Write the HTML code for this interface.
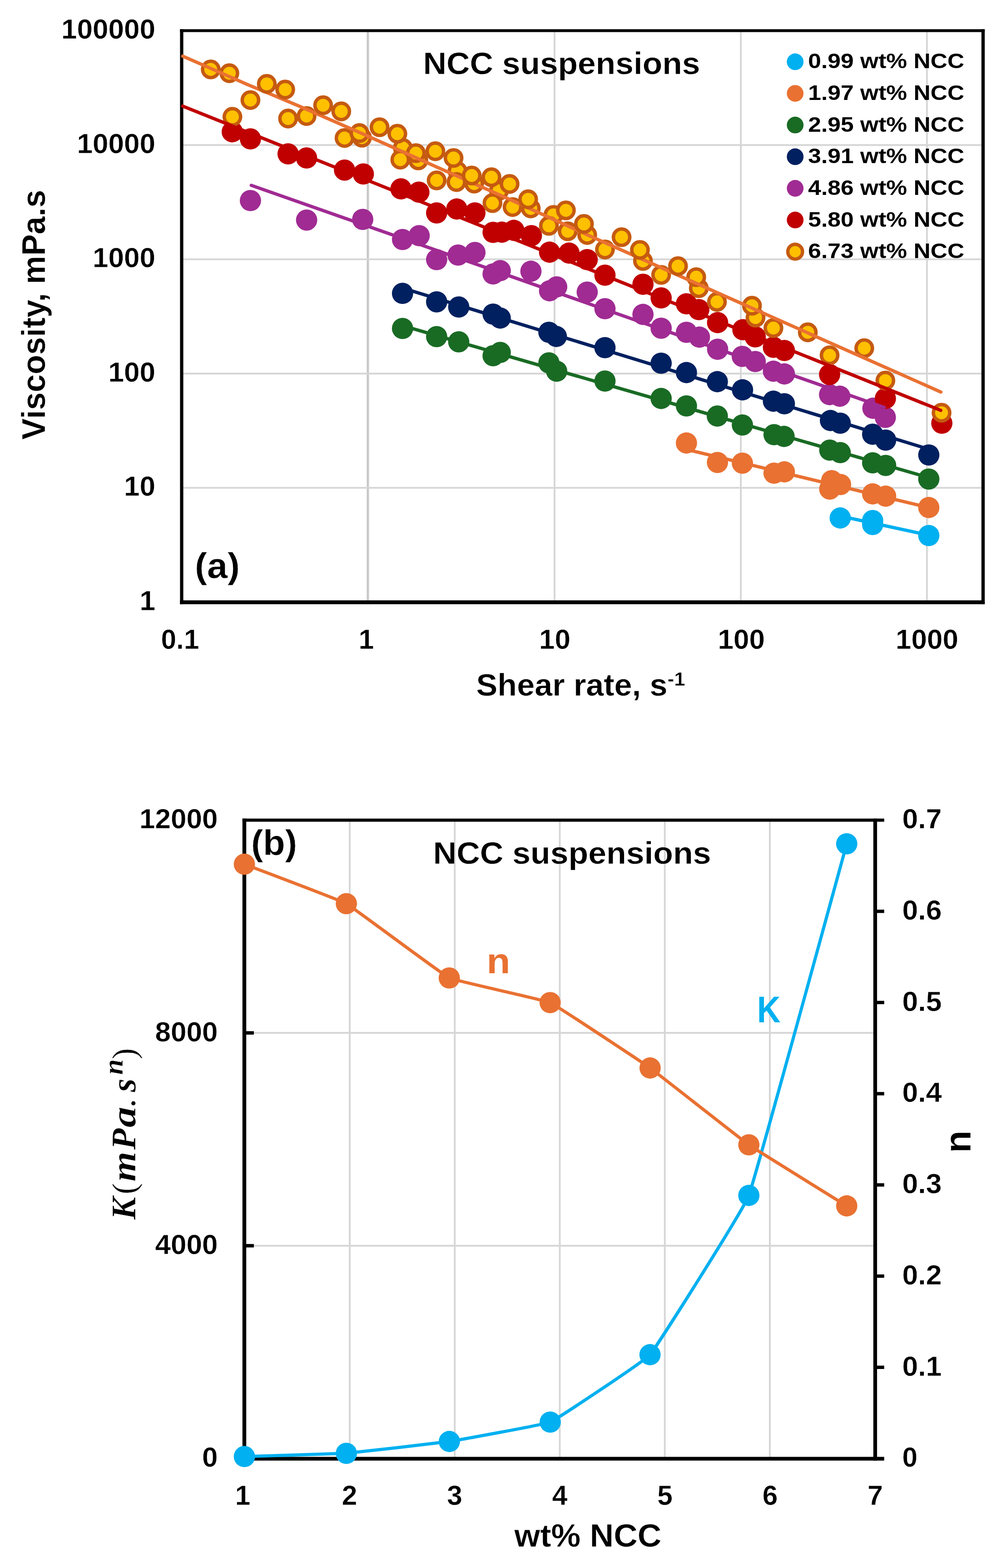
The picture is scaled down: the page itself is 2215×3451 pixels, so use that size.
<!DOCTYPE html>
<html lang="en"><head><meta charset="utf-8"><title>NCC suspensions</title>
<style>
html,body{margin:0;padding:0;background:#fff;}
body{width:2215px;height:3451px;overflow:hidden;}
svg{display:block;}
text{font-family:"Liberation Sans", Arial, Helvetica, sans-serif;font-weight:700;fill:#000;stroke:#fff;stroke-width:0.5px;stroke-linejoin:round;}
.g{stroke:#D6D6D6;stroke-width:3.9;fill:none;}
.ax{stroke:#000;fill:none;}
.mi{font-family:"Liberation Serif","DejaVu Serif",serif;font-style:italic;font-weight:700;}
</style></head><body>
<svg width="2215" height="3451" viewBox="0 0 2215 3451">
<rect width="2215" height="3451" fill="#fff"/>
<g id="chart-a">
<line x1="810" y1="67.4" x2="810" y2="1325.5" stroke="#DDDDDD" stroke-width="6.2"/>
<line x1="809.9" y1="67.4" x2="809.9" y2="1325.5" stroke="#BEBEBE" stroke-width="2.2"/>
<line class="g" x1="1221" y1="67.4" x2="1221" y2="1325.5"/>
<line class="g" x1="1631.1" y1="67.4" x2="1631.1" y2="1325.5"/>
<line class="g" x1="2040.9" y1="67.4" x2="2040.9" y2="1325.5"/>
<line class="g" x1="400.2" y1="319.2" x2="2164.5" y2="319.2"/>
<line class="g" x1="400.2" y1="570.6" x2="2164.5" y2="570.6"/>
<line class="g" x1="400.2" y1="822.2" x2="2164.5" y2="822.2"/>
<line class="g" x1="400.2" y1="1073.6" x2="2164.5" y2="1073.6"/>
<text x="931.5" y="163.2" font-size="69.3" textLength="610" lengthAdjust="spacingAndGlyphs">NCC suspensions</text>
<text x="429" y="1271.5" font-size="77" textLength="99" lengthAdjust="spacingAndGlyphs">(a)</text>
<circle cx="1750.8" cy="135.9" r="18.4" fill="#00B0F0"/>
<text x="1779.3" y="150.3" font-size="46.8" textLength="344" lengthAdjust="spacingAndGlyphs" stroke="none" style="stroke:none">0.99 wt% NCC</text>
<circle cx="1750.8" cy="205.6" r="18.4" fill="#E97132"/>
<text x="1779.3" y="220.0" font-size="46.8" textLength="344" lengthAdjust="spacingAndGlyphs" stroke="none" style="stroke:none">1.97 wt% NCC</text>
<circle cx="1750.8" cy="275.2" r="18.4" fill="#196B24"/>
<text x="1779.3" y="289.6" font-size="46.8" textLength="344" lengthAdjust="spacingAndGlyphs" stroke="none" style="stroke:none">2.95 wt% NCC</text>
<circle cx="1750.8" cy="344.9" r="18.4" fill="#002060"/>
<text x="1779.3" y="359.3" font-size="46.8" textLength="344" lengthAdjust="spacingAndGlyphs" stroke="none" style="stroke:none">3.91 wt% NCC</text>
<circle cx="1750.8" cy="414.5" r="18.4" fill="#A02B93"/>
<text x="1779.3" y="428.9" font-size="46.8" textLength="344" lengthAdjust="spacingAndGlyphs" stroke="none" style="stroke:none">4.86 wt% NCC</text>
<circle cx="1750.8" cy="484.2" r="18.4" fill="#C00000"/>
<text x="1779.3" y="498.6" font-size="46.8" textLength="344" lengthAdjust="spacingAndGlyphs" stroke="none" style="stroke:none">5.80 wt% NCC</text>
<circle cx="1750.8" cy="553.9" r="16.2" fill="#FFC000" stroke="#C55A11" stroke-width="7.4"/>
<text x="1779.3" y="568.3" font-size="46.8" textLength="344" lengthAdjust="spacingAndGlyphs" stroke="none" style="stroke:none">6.73 wt% NCC</text>
<g fill="#000">
<rect x="396.4" y="64.3" width="1771.8" height="6.3"/>
<rect x="396.4" y="1321.3" width="1771.8" height="8.5"/>
<rect x="396.4" y="64.3" width="7.2" height="1265.5"/>
<rect x="2160.9" y="64.3" width="7.3" height="1265.5"/>
</g>
<g fill="#00B0F0"><circle cx="1850" cy="1140" r="23.4"/><circle cx="1921.4" cy="1145.7" r="23.4"/><circle cx="1921.4" cy="1154.3" r="23.4"/><circle cx="2045" cy="1178.6" r="23.4"/></g>
<g fill="#E97132"><circle cx="1511.4" cy="975" r="23.4"/><circle cx="1579.7" cy="1017.8" r="23.4"/><circle cx="1634.6" cy="1019.3" r="23.4"/><circle cx="1704.3" cy="1041.4" r="23.4"/><circle cx="1727" cy="1038.5" r="23.4"/><circle cx="1827" cy="1076.3" r="23.4"/><circle cx="1831.2" cy="1057.8" r="23.4"/><circle cx="1850.7" cy="1066.3" r="23.4"/><circle cx="1921.4" cy="1087" r="23.4"/><circle cx="1950" cy="1092" r="23.4"/><circle cx="2045" cy="1117" r="23.4"/></g>
<g fill="#196B24"><circle cx="886.3" cy="722.9" r="23.4"/><circle cx="961.4" cy="740.9" r="23.4"/><circle cx="1010" cy="752.3" r="23.4"/><circle cx="1085.7" cy="782.9" r="23.4"/><circle cx="1101.4" cy="775.7" r="23.4"/><circle cx="1208.6" cy="798.6" r="23.4"/><circle cx="1225.7" cy="817" r="23.4"/><circle cx="1332" cy="838.6" r="23.4"/><circle cx="1455.7" cy="877" r="23.4"/><circle cx="1511.4" cy="893.4" r="23.4"/><circle cx="1579.4" cy="915.7" r="23.4"/><circle cx="1634.6" cy="935.3" r="23.4"/><circle cx="1704.3" cy="956.6" r="23.4"/><circle cx="1726.3" cy="960.5" r="23.4"/><circle cx="1827" cy="990.7" r="23.4"/><circle cx="1850" cy="996.2" r="23.4"/><circle cx="1921.4" cy="1018.6" r="23.4"/><circle cx="1950" cy="1024.3" r="23.4"/><circle cx="2045" cy="1054.3" r="23.4"/></g>
<g fill="#002060"><circle cx="886.3" cy="645.7" r="23.4"/><circle cx="961.4" cy="664.3" r="23.4"/><circle cx="1010" cy="675.7" r="23.4"/><circle cx="1085.7" cy="691.4" r="23.4"/><circle cx="1101.4" cy="700" r="23.4"/><circle cx="1208.6" cy="731.4" r="23.4"/><circle cx="1224.9" cy="740.5" r="23.4"/><circle cx="1332" cy="765.1" r="23.4"/><circle cx="1455.7" cy="799.4" r="23.4"/><circle cx="1511.4" cy="820" r="23.4"/><circle cx="1579.4" cy="840" r="23.4"/><circle cx="1634.9" cy="858" r="23.4"/><circle cx="1702.9" cy="883" r="23.4"/><circle cx="1727" cy="888.6" r="23.4"/><circle cx="1828.5" cy="925.5" r="23.4"/><circle cx="1850" cy="931.4" r="23.4"/><circle cx="1921.4" cy="955.7" r="23.4"/><circle cx="1950" cy="968.6" r="23.4"/><circle cx="2045" cy="1001.4" r="23.4"/></g>
<g fill="#A02B93"><circle cx="551.4" cy="441.4" r="23.4"/><circle cx="675.1" cy="484.3" r="23.4"/><circle cx="798.6" cy="482.9" r="23.4"/><circle cx="886.3" cy="527.1" r="23.4"/><circle cx="922.9" cy="518.6" r="23.4"/><circle cx="961.4" cy="571.4" r="23.4"/><circle cx="1008.6" cy="561.4" r="23.4"/><circle cx="1045.7" cy="555.7" r="23.4"/><circle cx="1085.7" cy="602.9" r="23.4"/><circle cx="1101.4" cy="595.7" r="23.4"/><circle cx="1169" cy="597" r="23.4"/><circle cx="1210" cy="640" r="23.4"/><circle cx="1225.7" cy="631.4" r="23.4"/><circle cx="1292.9" cy="642.9" r="23.4"/><circle cx="1332" cy="679.4" r="23.4"/><circle cx="1415.7" cy="692" r="23.4"/><circle cx="1455.7" cy="722.3" r="23.4"/><circle cx="1511.4" cy="731.4" r="23.4"/><circle cx="1540" cy="742" r="23.4"/><circle cx="1580" cy="768.6" r="23.4"/><circle cx="1634.3" cy="784.3" r="23.4"/><circle cx="1662.9" cy="795.7" r="23.4"/><circle cx="1702.9" cy="817" r="23.4"/><circle cx="1727" cy="823" r="23.4"/><circle cx="1826.6" cy="868.5" r="23.4"/><circle cx="1849" cy="872" r="23.4"/><circle cx="1922" cy="898.5" r="23.4"/><circle cx="1949.3" cy="918.6" r="23.4"/></g>
<g fill="#C00000"><circle cx="511.4" cy="290" r="23.4"/><circle cx="551.4" cy="305.7" r="23.4"/><circle cx="634.3" cy="338.6" r="23.4"/><circle cx="675" cy="347.7" r="23.4"/><circle cx="758.6" cy="374.3" r="23.4"/><circle cx="800" cy="382.9" r="23.4"/><circle cx="882.9" cy="415.7" r="23.4"/><circle cx="922.3" cy="422.9" r="23.4"/><circle cx="961.4" cy="468.6" r="23.4"/><circle cx="1005.7" cy="460" r="23.4"/><circle cx="1045.7" cy="468.6" r="23.4"/><circle cx="1085.7" cy="511.4" r="23.4"/><circle cx="1105" cy="511" r="23.4"/><circle cx="1131.4" cy="507" r="23.4"/><circle cx="1170" cy="518.6" r="23.4"/><circle cx="1210" cy="555" r="23.4"/><circle cx="1252.9" cy="557" r="23.4"/><circle cx="1292.9" cy="571.4" r="23.4"/><circle cx="1332" cy="605.7" r="23.4"/><circle cx="1415.7" cy="625.7" r="23.4"/><circle cx="1455.7" cy="655.7" r="23.4"/><circle cx="1511.4" cy="668.6" r="23.4"/><circle cx="1538.6" cy="681.4" r="23.4"/><circle cx="1580" cy="710" r="23.4"/><circle cx="1635.7" cy="725.7" r="23.4"/><circle cx="1662.9" cy="741.4" r="23.4"/><circle cx="1702.9" cy="764.3" r="23.4"/><circle cx="1727" cy="771.4" r="23.4"/><circle cx="1826.6" cy="824.3" r="23.4"/><circle cx="1949.4" cy="877" r="23.4"/><circle cx="2073.7" cy="931.4" r="23.4"/></g>
<g fill="#FFC000" stroke="#C55A11" stroke-width="7.6"><circle cx="797" cy="303" r="18"/><circle cx="887" cy="325.7" r="18"/><circle cx="921" cy="353" r="18"/><circle cx="1007.3" cy="376.3" r="18"/><circle cx="1044" cy="404" r="18"/><circle cx="1098.6" cy="420" r="18"/><circle cx="1168.6" cy="458.6" r="18"/><circle cx="1218.6" cy="473" r="18"/><circle cx="1250" cy="509" r="18"/><circle cx="1292.9" cy="517.1" r="18"/><circle cx="1415.7" cy="574.3" r="18"/><circle cx="1538.6" cy="634.3" r="18"/><circle cx="1663.5" cy="699" r="18"/><circle cx="464.0" cy="152.8" r="18"/><circle cx="505.0" cy="161.1" r="18"/><circle cx="551.4" cy="220.2" r="18"/><circle cx="511.7" cy="257.1" r="18"/><circle cx="634.3" cy="260.9" r="18"/><circle cx="675.0" cy="255.4" r="18"/><circle cx="758.6" cy="303.7" r="18"/><circle cx="791.4" cy="292.9" r="18"/><circle cx="881.4" cy="351.4" r="18"/><circle cx="915.7" cy="337" r="18"/><circle cx="961.4" cy="397" r="18"/><circle cx="1005" cy="400.6" r="18"/><circle cx="1084.3" cy="447" r="18"/><circle cx="1128.6" cy="455.7" r="18"/><circle cx="1208.6" cy="497" r="18"/><circle cx="1332" cy="549.1" r="18"/><circle cx="1455.7" cy="605" r="18"/><circle cx="1532.9" cy="610" r="18"/><circle cx="1578.6" cy="664.3" r="18"/><circle cx="1655.7" cy="672.9" r="18"/><circle cx="1702.9" cy="722" r="18"/><circle cx="1778.6" cy="731.4" r="18"/><circle cx="1826.6" cy="782" r="18"/><circle cx="1902.9" cy="766.3" r="18"/><circle cx="1949.4" cy="837.6" r="18"/><circle cx="2073.1" cy="908.4" r="18"/></g>
<g fill="none" stroke-width="7.3" stroke-linecap="round" stroke-linejoin="round">
<line x1="1849.5" y1="1135.6" x2="2045.5" y2="1177.9" stroke="#00B0F0"/>
<line x1="1511" y1="989.1" x2="2045.4" y2="1117.3" stroke="#E97132"/>
<line x1="886.2" y1="716.8" x2="2045.4" y2="1051.3" stroke="#196B24"/>
<line x1="886.2" y1="633.9" x2="2045.4" y2="988.7" stroke="#002060"/>
<line x1="553.2" y1="407.9" x2="1946.9" y2="896.6" stroke="#A02B93"/>
<line x1="402.4" y1="233.6" x2="2071.3" y2="903.2" stroke="#C00000"/>
<polyline stroke="#E97132" points="402.3,123.6 480,157.5 545,186.2 600,208.9 660,234.1 800,295.2 960,366.8 1120,437.8 1200,474.4 1280,511.0 1440,582.2 1600,653.3 1750,720.0 1900,786.7 2071.6,862.8"/>
</g>
<g fill="#FFC000" stroke="#C55A11" stroke-width="7.6"><circle cx="587.4" cy="184.6" r="18"/><circle cx="628" cy="197.1" r="18"/><circle cx="711.4" cy="231.6" r="18"/><circle cx="751.4" cy="245.1" r="18"/><circle cx="835.7" cy="280" r="18"/><circle cx="874.9" cy="294.3" r="18"/><circle cx="958.6" cy="332.9" r="18"/><circle cx="998.6" cy="347.7" r="18"/><circle cx="1038.6" cy="386.3" r="18"/><circle cx="1082" cy="390" r="18"/><circle cx="1122" cy="404.9" r="18"/><circle cx="1162.9" cy="438.6" r="18"/><circle cx="1246" cy="463" r="18"/><circle cx="1285.7" cy="492.9" r="18"/><circle cx="1368.6" cy="522" r="18"/><circle cx="1409" cy="550" r="18"/><circle cx="1492.9" cy="585.7" r="18"/></g>
<text x="342" y="85.2" font-size="60.5" text-anchor="end" textLength="207.0" lengthAdjust="spacingAndGlyphs">100000</text>
<text x="342" y="336.8" font-size="60.5" text-anchor="end" textLength="172.5" lengthAdjust="spacingAndGlyphs">10000</text>
<text x="342" y="588.4" font-size="60.5" text-anchor="end" textLength="138.0" lengthAdjust="spacingAndGlyphs">1000</text>
<text x="342" y="840.0" font-size="60.5" text-anchor="end" textLength="103.5" lengthAdjust="spacingAndGlyphs">100</text>
<text x="342" y="1091.3999999999999" font-size="60.5" text-anchor="end" textLength="69.0" lengthAdjust="spacingAndGlyphs">10</text>
<text x="342" y="1343.3" font-size="60.5" text-anchor="end" textLength="34.5" lengthAdjust="spacingAndGlyphs">1</text>
<text x="396.5" y="1428" font-size="60.5" text-anchor="middle" textLength="84" lengthAdjust="spacingAndGlyphs">0.1</text>
<text x="806.5" y="1428" font-size="60.5" text-anchor="middle">1</text>
<text x="1221.5" y="1428" font-size="60.5" text-anchor="middle" textLength="69" lengthAdjust="spacingAndGlyphs">10</text>
<text x="1632.2" y="1428" font-size="60.5" text-anchor="middle" textLength="103.5" lengthAdjust="spacingAndGlyphs">100</text>
<text x="2041" y="1428" font-size="60.5" text-anchor="middle" textLength="138" lengthAdjust="spacingAndGlyphs">1000</text>
<text x="1048.5" y="1531.2" font-size="69" textLength="460" lengthAdjust="spacingAndGlyphs">Shear rate, s<tspan font-size="43" dy="-22">-1</tspan></text>
<text transform="translate(99,967.8) rotate(-90)" font-size="72" textLength="550" lengthAdjust="spacingAndGlyphs">Viscosity, mPa.s</text>
</g>
<g id="chart-b">
<line class="g" x1="770.0" y1="1805" x2="770.0" y2="3210"/>
<line class="g" x1="1001.25" y1="1805" x2="1001.25" y2="3210"/>
<line class="g" x1="1232.5" y1="1805" x2="1232.5" y2="3210"/>
<line class="g" x1="1463.75" y1="1805" x2="1463.75" y2="3210"/>
<line class="g" x1="1695.0" y1="1805" x2="1695.0" y2="3210"/>
<line class="g" x1="538" y1="2741.7" x2="1927" y2="2741.7"/>
<line class="g" x1="538" y1="2273.3" x2="1927" y2="2273.3"/>
<text x="953.5" y="1900.8" font-size="69.3" textLength="612" lengthAdjust="spacingAndGlyphs">NCC suspensions</text>
<text x="553" y="1881.5" font-size="77" textLength="101" lengthAdjust="spacingAndGlyphs">(b)</text>
<text x="1071.5" y="2141.7" font-size="78" textLength="52" lengthAdjust="spacingAndGlyphs" style="fill:#E97132;stroke:none">n</text>
<text x="1667" y="2250" font-size="82" textLength="51.5" lengthAdjust="spacingAndGlyphs" style="fill:#00B0F0;stroke:none">K</text>
<g fill="#000">
<rect x="533.8" y="1801.6" width="1413" height="6.9"/>
<rect x="533.8" y="3206.4" width="1413" height="8.2"/>
<rect x="533.8" y="1801.6" width="8.4" height="1413"/>
<rect x="1922.9" y="1801.6" width="8.2" height="1413"/>
<rect x="538" y="2737.9" width="20.9" height="7.6"/>
<rect x="538" y="2269.5" width="20.9" height="7.6"/>
<rect x="1927" y="3005.6" width="19.8" height="7.4"/>
<rect x="1927" y="2804.9" width="19.8" height="7.4"/>
<rect x="1927" y="2604.2" width="19.8" height="7.4"/>
<rect x="1927" y="2403.4" width="19.8" height="7.4"/>
<rect x="1927" y="2202.7" width="19.8" height="7.4"/>
<rect x="1927" y="2002.0" width="19.8" height="7.4"/>
</g>
<path fill="none" stroke="#00B0F0" stroke-width="7" stroke-linejoin="round" d="M538.1,3205.7 C544.8,3205.5 749.1,3199.6 762.6,3198.6 C776.1,3197.6 975.9,3174.6 989.4,3172.5 C1002.9,3170.4 1198.2,3135.6 1211.5,3129.9 C1224.8,3124.2 1418.1,2996.5 1431.2,2981.5 C1444.3,2966.5 1635.8,2664.7 1648.8,2631 C1661.8,2597.3 1857.8,1880.3 1864.3,1857.1"/>
<g fill="#00B0F0"><circle cx="538.1" cy="3205.7" r="23.4"/><circle cx="762.6" cy="3198.6" r="23.4"/><circle cx="989.4" cy="3172.5" r="23.4"/><circle cx="1211.5" cy="3129.9" r="23.4"/><circle cx="1431.2" cy="2981.5" r="23.4"/><circle cx="1648.8" cy="2631" r="23.4"/><circle cx="1864.3" cy="1857.1" r="23.4"/></g>
<path fill="none" stroke="#E97132" stroke-width="7" stroke-linejoin="round" d="M538.1,1902 C544.8,1904.6 749.1,1981.3 762.6,1988.8 C776.1,1996.3 975.7,2145.9 989.2,2152.4 C1002.7,2158.9 1198.0,2200.7 1211.3,2206.6 C1224.6,2212.5 1418.3,2341.1 1431.4,2350.5 C1444.5,2359.9 1635.8,2510.5 1648.8,2519.6 C1661.8,2528.7 1857.8,2650.0 1864.3,2654"/>
<g fill="#E97132"><circle cx="538.1" cy="1902" r="23.4"/><circle cx="762.6" cy="1988.8" r="23.4"/><circle cx="989.2" cy="2152.4" r="23.4"/><circle cx="1211.3" cy="2206.6" r="23.4"/><circle cx="1431.4" cy="2350.5" r="23.4"/><circle cx="1648.8" cy="2519.6" r="23.4"/><circle cx="1864.3" cy="2654" r="23.4"/></g>
<text x="479.5" y="1823.2" font-size="60.5" text-anchor="end" textLength="172.5" lengthAdjust="spacingAndGlyphs">12000</text>
<text x="479.5" y="2291.5" font-size="60.5" text-anchor="end" textLength="138.0" lengthAdjust="spacingAndGlyphs">8000</text>
<text x="479.5" y="2759.9" font-size="60.5" text-anchor="end" textLength="138.0" lengthAdjust="spacingAndGlyphs">4000</text>
<text x="479.5" y="3228.2" font-size="60.5" text-anchor="end" textLength="34.5" lengthAdjust="spacingAndGlyphs">0</text>
<text x="1986.5" y="3228.2" font-size="60.5">0</text>
<text x="1986.5" y="3027.5" font-size="60.5" textLength="87" lengthAdjust="spacingAndGlyphs">0.1</text>
<text x="1986.5" y="2826.8" font-size="60.5" textLength="87" lengthAdjust="spacingAndGlyphs">0.2</text>
<text x="1986.5" y="2626.1" font-size="60.5" textLength="87" lengthAdjust="spacingAndGlyphs">0.3</text>
<text x="1986.5" y="2425.3" font-size="60.5" textLength="87" lengthAdjust="spacingAndGlyphs">0.4</text>
<text x="1986.5" y="2224.6" font-size="60.5" textLength="87" lengthAdjust="spacingAndGlyphs">0.5</text>
<text x="1986.5" y="2023.9" font-size="60.5" textLength="87" lengthAdjust="spacingAndGlyphs">0.6</text>
<text x="1986.5" y="1823.2" font-size="60.5" textLength="87" lengthAdjust="spacingAndGlyphs">0.7</text>
<text x="534.5" y="3311.5" font-size="60.5" text-anchor="middle">1</text>
<text x="769.5" y="3311.5" font-size="60.5" text-anchor="middle">2</text>
<text x="1001.0" y="3311.5" font-size="60.5" text-anchor="middle">3</text>
<text x="1232.5" y="3311.5" font-size="60.5" text-anchor="middle">4</text>
<text x="1464.0" y="3311.5" font-size="60.5" text-anchor="middle">5</text>
<text x="1695.5" y="3311.5" font-size="60.5" text-anchor="middle">6</text>
<text x="1927.0" y="3311.5" font-size="60.5" text-anchor="middle">7</text>
<text x="1132.5" y="3403.8" font-size="71" textLength="324" lengthAdjust="spacingAndGlyphs">wt% NCC</text>
<text class="mi" transform="translate(297.5,2684.6) rotate(-90)" font-size="77"><tspan x="0" textLength="50" lengthAdjust="spacingAndGlyphs">K</tspan><tspan x="56" font-style="normal" font-weight="400" font-size="74">(</tspan><tspan x="84" textLength="66" lengthAdjust="spacingAndGlyphs">m</tspan><tspan x="154">P</tspan><tspan x="203" textLength="46" lengthAdjust="spacingAndGlyphs">a</tspan><tspan x="251" font-size="60">.</tspan><tspan x="281">s</tspan><tspan x="319" dy="-28" font-size="62">n</tspan><tspan x="353" dy="28" font-style="normal" font-weight="400" font-size="74">)</tspan></text>
<text transform="translate(2136.6,2537.5) rotate(-90)" font-size="81">n</text>
</g>
</svg></body></html>
